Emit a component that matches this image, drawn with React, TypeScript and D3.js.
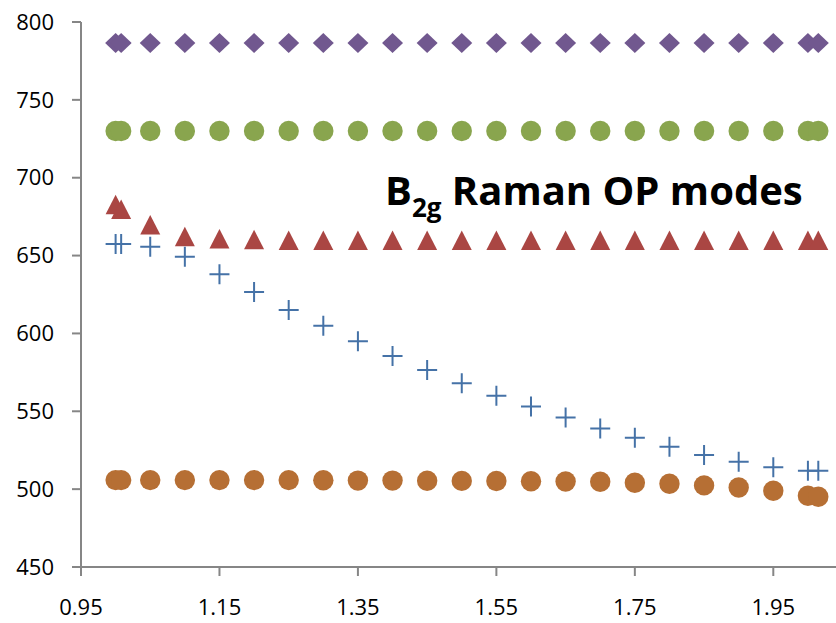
import React, { useEffect, useRef } from 'react';
import * as d3 from 'd3';

// shared x values of all five series
const xValues = [1.0, 1.008, 1.05, 1.1, 1.15, 1.2, 1.25, 1.3, 1.35, 1.4, 1.45, 1.5,
  1.55, 1.6, 1.65, 1.7, 1.75, 1.8, 1.85, 1.9, 1.95, 2.0, 2.015];

const plusSeries = [657.5, 657.5, 655.7, 649.3, 638, 626.6, 615, 605, 595, 585.5, 576.5, 568,
  560, 553, 546, 539, 533, 527.2, 522, 517.6, 514, 511.8, 511.8];
const triangleSeries = [682, 679, 669, 661.5, 660, 659.5, 659, 659, 659, 659, 659, 659,
  659, 659, 659, 659, 659, 659, 659, 659, 659, 659, 659];
const greenSeries = [730, 730, 730, 730, 730, 730, 730, 730, 730, 730, 730, 730,
  730, 730, 730, 730, 730, 730, 730, 730, 730, 730, 730];
const diamondSeries = [786.5, 786.5, 786.5, 786.5, 786.5, 786.5, 786.5, 786.5, 786.5, 786.5, 786.5, 786.5,
  786.5, 786.5, 786.5, 786.5, 786.5, 786.5, 786.5, 786.5, 786.5, 786.5, 786.5];
const orangeSeries = [505.8, 505.8, 505.8, 505.8, 505.8, 505.8, 505.8, 505.7, 505.5, 505.5, 505.4, 505.3,
  505.2, 505.1, 504.9, 504.7, 504.1, 503.5, 502.4, 501.1, 499, 495.8, 495.1];

const xTicks = [0.95, 1.15, 1.35, 1.55, 1.75, 1.95];
const yTicks = [450, 500, 550, 600, 650, 700, 750, 800];

const series = [
  { name: 'diamond', values: diamondSeries, shape: 'diamond', color: '#71588F' },
  { name: 'green', values: greenSeries, shape: 'circle', color: '#89A54E' },
  { name: 'triangle', values: triangleSeries, shape: 'triangle', color: '#AA4643' },
  { name: 'orange', values: orangeSeries, shape: 'circle', color: '#B66F34' },
  { name: 'plus', values: plusSeries, shape: 'plus', color: '#4572A7' },
];

const W = 836;
const H = 623;

const App = () => {
  const svgRef = useRef(null);

  useEffect(() => {
    const svg = d3.select(svgRef.current);
    svg.selectAll('*').remove();

    const x = d3.scaleLinear().domain([0.95, 1.95]).range([81, 773.3]);
    const y = d3.scaleLinear().domain([450, 800]).range([567, 22]);
    const axisColor = '#868686';
    const font = "'Open Sans', 'Liberation Sans', sans-serif";

    // y axis
    const yAxis = svg.append('g');
    yAxis.append('line')
      .attr('x1', 81).attr('x2', 81)
      .attr('y1', y(800)).attr('y2', y(450))
      .attr('stroke', axisColor).attr('stroke-width', 2);
    yTicks.forEach(t => {
      yAxis.append('line')
        .attr('x1', 72).attr('x2', 81)
        .attr('y1', y(t)).attr('y2', y(t))
        .attr('stroke', axisColor).attr('stroke-width', 2);
      yAxis.append('text')
        .attr('x', 54).attr('y', y(t))
        .attr('dy', '0.35em')
        .attr('text-anchor', 'end')
        .style('font', `22px ${font}`)
        .attr('fill', '#000')
        .text(t);
    });

    // x axis
    const xAxis = svg.append('g');
    xAxis.append('line')
      .attr('x1', 80).attr('x2', W)
      .attr('y1', y(450)).attr('y2', y(450))
      .attr('stroke', axisColor).attr('stroke-width', 2);
    xTicks.forEach(t => {
      xAxis.append('line')
        .attr('x1', x(t)).attr('x2', x(t))
        .attr('y1', y(450)).attr('y2', y(450) + 9)
        .attr('stroke', axisColor).attr('stroke-width', 2);
      xAxis.append('text')
        .attr('x', x(t)).attr('y', 615)
        .attr('text-anchor', 'middle')
        .style('font', `22px ${font}`)
        .attr('fill', '#000')
        .text(d3.format('.2f')(t));
    });

    const markerPath = (shape) => {
      if (shape === 'diamond') return 'M0,-10L10.5,0L0,10L-10.5,0Z';
      if (shape === 'triangle') return 'M0,-11L10,8.5L-10,8.5Z';
      if (shape === 'plus') return 'M-10,0H10M0,-10V10';
      return d3.symbol(d3.symbolCircle, Math.PI * 10.2 * 10.2)();
    };

    series.forEach(s => {
      svg.append('g')
        .selectAll('path')
        .data(s.values.map((v, i) => [xValues[i], v]))
        .join('path')
        .attr('transform', d => `translate(${x(d[0])},${y(d[1])})`)
        .attr('d', markerPath(s.shape))
        .attr('fill', s.shape === 'plus' ? 'none' : s.color)
        .attr('stroke', s.shape === 'plus' ? s.color : 'none')
        .attr('stroke-width', 2);
    });

    // title
    const title = svg.append('text')
      .attr('x', 385).attr('y', 205)
      .style('font', `bold 40px ${font}`)
      .attr('fill', '#000');
    title.append('tspan').text('B');
    title.append('tspan').attr('dy', 12).style('font-size', '26px').text('2g');
    title.append('tspan').attr('dy', -12).text(' Raman OP modes');
  }, []);

  return (
    <svg ref={svgRef} width={W} height={H}
      style={{ position: 'absolute', left: 0, top: 0, background: '#fff' }} />
  );
};

export default App;
